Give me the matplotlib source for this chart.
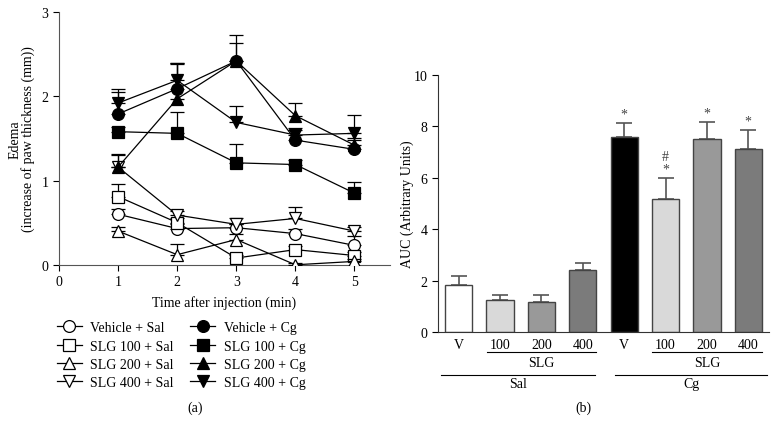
import numpy as np
import matplotlib.pyplot as plt
from matplotlib.lines import Line2D

plt.rcParams['font.family'] = ['Liberation Serif', 'DejaVu Serif']
plt.rcParams['font.size'] = 10

# panel (a): edema over time
times = [1, 2, 3, 4, 5]
groups = ['Vehicle + Sal', 'SLG 100 + Sal', 'SLG 200 + Sal', 'SLG 400 + Sal',
          'Vehicle + Cg', 'SLG 100 + Cg', 'SLG 200 + Cg', 'SLG 400 + Cg']
edema = [
    [0.60, 0.43, 0.44, 0.37, 0.23],
    [0.81, 0.50, 0.08, 0.18, 0.11],
    [0.40, 0.12, 0.30, 0.00, 0.04],
    [1.16, 0.59, 0.48, 0.55, 0.40],
    [1.79, 2.09, 2.42, 1.48, 1.37],
    [1.58, 1.56, 1.21, 1.19, 0.85],
    [1.16, 1.97, 2.42, 1.77, 1.42],
    [1.92, 2.19, 1.69, 1.54, 1.56],
]
edema_err = [
    [0.06, 0.05, 0.05, 0.05, 0.11],
    [0.15, 0.06, 0.04, 0.04, 0.04],
    [0.05, 0.13, 0.06, 0.02, 0.03],
    [0.14, 0.05, 0.07, 0.13, 0.05],
    [0.26, 0.29, 0.21, 0.14, 0.13],
    [0.05, 0.25, 0.22, 0.05, 0.13],
    [0.15, 0.43, 0.31, 0.15, 0.06],
    [0.17, 0.21, 0.20, 0.06, 0.22],
]
markers = ['o', 's', '^', 'v', 'o', 's', '^', 'v']
filled = [False, False, False, False, True, True, True, True]

# panel (b): AUC bars
bar_labels = ['V', '100', '200', '400', 'V', '100', '200', '400']
auc = [1.84, 1.25, 1.16, 2.42, 7.57, 5.17, 7.52, 7.12]
auc_err = [0.33, 0.18, 0.27, 0.28, 0.55, 0.81, 0.63, 0.74]
bar_colors = ['#ffffff', '#d9d9d9', '#999999', '#7b7b7b',
              '#000000', '#d9d9d9', '#999999', '#7b7b7b']
marks = ['', '', '', '', '*', '#\n*', '*', '*']

fig = plt.figure(figsize=(7.78, 4.35), dpi=100)

ax = fig.add_axes([0.0758, 0.389, 0.4254, 0.581])
handles = []
for i in range(len(groups)):
    fc = 'black' if filled[i] else 'white'
    ax.errorbar(times, edema[i], yerr=[np.zeros(5), edema_err[i]],
                color='black', lw=0.9, marker=markers[i], ms=8.5,
                mfc=fc, mec='black', mew=0.9, capsize=5, elinewidth=0.9,
                capthick=0.9, zorder=3 + i)
    handles.append(Line2D([], [], color='black', lw=0.9, marker=markers[i],
                          ms=8.5, mfc=fc, mec='black', mew=0.9))
ax.set_xlim(0, 5.6)
ax.set_ylim(0, 3)
ax.set_xticks([0, 1, 2, 3, 4, 5])
ax.set_yticks([0, 1, 2, 3])
ax.spines['top'].set_visible(False)
ax.spines['right'].set_visible(False)
ax.spines['left'].set_color('#555555')
ax.spines['bottom'].set_color('#555555')
ax.tick_params(direction='out', length=4, width=0.8, colors='black', labelsize=10)
ax.set_xlabel('Time after injection (min)', fontsize=10, labelpad=5)
ax.set_ylabel('Edema\n(increase of paw thickness (mm))', fontsize=10,
              linespacing=1.0)
ax.yaxis.set_label_coords(-0.072, 0.5)
leg = fig.legend(handles, groups,
                 ncol=2, loc='upper left', bbox_to_anchor=(0.066, 0.272),
                 frameon=False, fontsize=10, handlelength=1.8,
                 handletextpad=0.6, columnspacing=1.2, labelspacing=0.38,
                 borderaxespad=0)
fig.text(0.251, 0.062, '(a)', ha='center', va='center', fontsize=10)

# bar panel
bx = fig.add_axes([0.563, 0.2338, 0.4254, 0.592])
pos = np.arange(len(auc))
bx.bar(pos, auc, width=0.66, color=bar_colors, edgecolor='#444444', lw=1.0,
       zorder=2)
bx.errorbar(pos, auc, yerr=[np.zeros(len(auc)), auc_err], fmt='none',
            ecolor='#555555', elinewidth=1.2, capsize=6, capthick=1.2, zorder=1)
for p, v, e, m in zip(pos, auc, auc_err, marks):
    if m:
        bx.text(p, v + e + 0.1, m, ha='center', va='bottom', fontsize=10,
                color='#444444', linespacing=1.0)
bx.set_xlim(-0.5, 7.5)
bx.set_ylim(0, 10)
bx.set_yticks([0, 2, 4, 6, 8, 10])
bx.set_xticks(pos)
bx.set_xticklabels(bar_labels)
bx.spines['top'].set_visible(False)
bx.spines['right'].set_visible(False)
bx.spines['left'].set_color('#333333')
bx.spines['bottom'].set_color('#333333')
bx.tick_params(axis='y', direction='out', length=4, width=0.8, labelsize=10)
bx.tick_params(axis='x', length=0, pad=4, labelsize=10)
bx.set_ylabel('AUC (Arbitrary Units)', fontsize=10)
bx.yaxis.set_label_coords(-0.072, 0.5)

# group brackets under the bars
tr = bx.get_xaxis_transform()
def bracket(x0, x1, y, text, ty):
    bx.plot([x0, x1], [y, y], color='black', lw=0.8, transform=tr, clip_on=False)
    bx.text((x0 + x1) / 2, ty, text, ha='center', va='center', fontsize=10,
            transform=tr)
bracket(0.68, 3.32, -0.078, 'SLG', -0.117)
bracket(4.68, 7.32, -0.078, 'SLG', -0.117)
bracket(-0.42, 3.3, -0.164, 'Sal', -0.2)
bracket(3.78, 7.45, -0.164, 'Cg', -0.2)
fig.text(0.75, 0.062, '(b)', ha='center', va='center', fontsize=10)

fig.savefig('out.png', dpi=100)
